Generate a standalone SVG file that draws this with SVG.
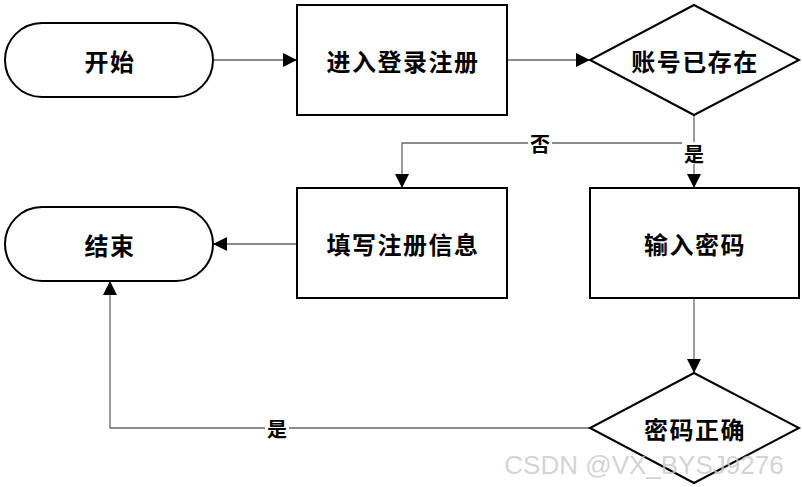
<svg xmlns="http://www.w3.org/2000/svg" width="802" height="487" viewBox="0 0 802 487">
<style>
.n{fill:#fff;stroke:#000;stroke-width:2}
.t{font-family:"Noto Sans CJK SC","Noto Sans",sans-serif;font-weight:bold;font-size:24px;letter-spacing:1.5px;text-anchor:middle;dominant-baseline:central;fill:#000}
.l{font-family:"Noto Sans CJK SC","Noto Sans",sans-serif;font-weight:bold;font-size:20px;text-anchor:middle;dominant-baseline:central;fill:#000}
.c{fill:none;stroke:#666;stroke-width:1.3}
.lb{fill:#fff;stroke:none}
</style>
<defs>
<marker id="a" viewBox="0 0 14 14" refX="14" refY="7" markerWidth="14" markerHeight="14" markerUnits="userSpaceOnUse" orient="auto">
<path d="M0,0 L14,7 L0,14 Z" fill="#000"/>
</marker>
</defs>
<rect width="802" height="487" fill="#fff"/>
<g id="connectors">
<path class="c" d="M213,60 H297" marker-end="url(#a)"/>
<path class="c" d="M507,60 H590" marker-end="url(#a)"/>
<path class="c" d="M694,115 V188" marker-end="url(#a)"/>
<path class="c" d="M694,143 H402 V188" marker-end="url(#a)"/>
<path class="c" d="M297,244 H213" marker-end="url(#a)"/>
<path class="c" d="M694,298 V373" marker-end="url(#a)"/>
<path class="c" d="M590,428 H110 V281" marker-end="url(#a)"/>
<rect class="lb" x="528" y="132" width="24" height="22"/>
<text class="l" x="540" y="143">否</text>
<rect class="lb" x="682" y="142" width="24" height="22"/>
<text class="l" x="694" y="153">是</text>
<rect class="lb" x="265" y="417" width="24" height="22"/>
<text class="l" x="277" y="428">是</text>
</g>
<g id="start">
<rect class="n" x="5" y="23" width="208" height="74" rx="37" ry="37"/>
<text class="t" x="110" y="60">开始</text>
</g>
<g id="login">
<rect class="n" x="297" y="5" width="210" height="110"/>
<text class="t" x="403" y="60">进入登录注册</text>
</g>
<g id="exists">
<polygon class="n" points="694,5 799,60 694,115 590,60"/>
<text class="t" x="695" y="60">账号已存在</text>
</g>
<g id="register">
<rect class="n" x="297" y="188" width="210" height="110"/>
<text class="t" x="403" y="243">填写注册信息</text>
</g>
<g id="password">
<rect class="n" x="590" y="188" width="209" height="110"/>
<text class="t" x="695" y="243">输入密码</text>
</g>
<g id="end">
<rect class="n" x="5" y="207" width="208" height="74" rx="37" ry="37"/>
<text class="t" x="110" y="244">结束</text>
</g>
<g id="correct">
<polygon class="n" points="694,373 799,428 694,483 590,428"/>
<text class="t" x="695" y="428">密码正确</text>
</g>
<text x="644" y="465" font-family="'Liberation Sans',sans-serif" font-size="26" fill="#c8c8c8" fill-opacity="0.8" text-anchor="middle" dominant-baseline="central">CSDN @VX_BYSJ9276</text>
</svg>
